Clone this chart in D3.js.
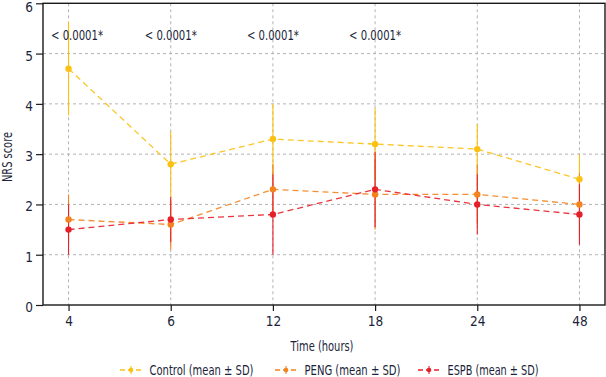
<!DOCTYPE html>
<html><head><meta charset="utf-8">
<script src="https://cdn.jsdelivr.net/npm/d3@7"></script>
<style>
body{margin:0;background:#fff;}
svg{display:block;}
text{font-family:"DejaVu Sans Condensed","Liberation Sans Narrow",sans-serif;fill:#1b1f3b;}
</style></head>
<body>
<svg id="c" width="606" height="377"></svg>
<script>
const times = ["4","6","12","18","24","48"];
const yTicks = [0,1,2,3,4,5,6];
const controlMean = [4.7,2.8,3.3,3.2,3.1,2.5];
const controlSD   = [0.93,0.65,0.7,0.72,0.5,0.5];
const pengMean = [1.7,1.6,2.3,2.2,2.2,2.0];
const pengSD   = [0.5,0.5,0.5,0.7,0.6,0.62];
const espbMean = [1.5,1.7,1.8,2.3,2.0,1.8];
const espbSD   = [0.5,0.45,0.8,0.75,0.6,0.6];
const pLabels = ["< 0.0001*","< 0.0001*","< 0.0001*","< 0.0001*","",""];
const seriesNames = ["Control (mean \u00b1 SD)","PENG (mean \u00b1 SD)","ESPB (mean \u00b1 SD)"];
const seriesColors = ["#FBC012","#F3831F","#E5202A"];

const series = [
  {name:seriesNames[0], color:seriesColors[0], mean:controlMean, sd:controlSD},
  {name:seriesNames[1], color:seriesColors[1], mean:pengMean, sd:pengSD},
  {name:seriesNames[2], color:seriesColors[2], mean:espbMean, sd:espbSD}
];

const svg = d3.select("#c");
const L=43, R=605, T=3.3, B=305;
const x = d3.scalePoint().domain(times).range([L,R]).padding(0.25);
const y = d3.scaleLinear().domain([0,6]).range([B,T]);

// grid
const g = svg.append("g");
g.selectAll("line.gy").data(yTicks.filter(d=>d>0&&d<6)).enter().append("line")
  .attr("x1",L).attr("x2",R).attr("y1",d=>y(d)).attr("y2",d=>y(d))
  .attr("stroke","#b3b3b3").attr("stroke-width",1).attr("stroke-dasharray","3,3");
g.selectAll("line.gx").data(times).enter().append("line")
  .attr("x1",d=>x(d)).attr("x2",d=>x(d)).attr("y1",T).attr("y2",B)
  .attr("stroke","#b3b3b3").attr("stroke-width",1).attr("stroke-dasharray","3,3");

// frame
svg.append("rect").attr("x",L).attr("y",T).attr("width",R-L).attr("height",B-T)
  .attr("fill","none").attr("stroke","#1a1a1a").attr("stroke-width",1.4);

// axes
const xa = svg.append("g").attr("transform",`translate(0,${B})`)
  .call(d3.axisBottom(x).tickSize(6).tickPadding(5));
const ya = svg.append("g").attr("transform",`translate(${L},0)`)
  .call(d3.axisLeft(y).tickValues(yTicks).tickFormat(d3.format("d")).tickSize(7).tickPadding(3));
[xa,ya].forEach(a=>{
  a.select(".domain").remove();
  a.selectAll(".tick line").attr("stroke","#1a1a1a").attr("stroke-width",1.2);
  a.selectAll(".tick text").attr("font-size",13.5).attr("fill","#1b1f3b")
   .attr("font-family",'"DejaVu Sans Condensed","Liberation Sans Narrow",sans-serif');
});
ya.selectAll(".tick text").attr("dy",d=>d===6?"0.6em":"0.48em");

// error bars
series.forEach(s=>{
  svg.append("g").selectAll("line").data(times).enter().append("line")
    .attr("x1",d=>x(d)).attr("x2",d=>x(d))
    .attr("y1",(d,i)=>y(s.mean[i]+s.sd[i])).attr("y2",(d,i)=>y(s.mean[i]-s.sd[i]))
    .attr("stroke",s.color).attr("stroke-width",1.1);
});
// lines and points
series.forEach(s=>{
  const line = d3.line().x((d,i)=>x(times[i])).y(d=>y(d));
  svg.append("path").datum(s.mean).attr("d",line).attr("fill","none")
    .attr("stroke",s.color).attr("stroke-width",1.3).attr("stroke-dasharray","6,4").attr("opacity",0.9);
});
series.forEach(s=>{
  svg.append("g").selectAll("circle").data(s.mean).enter().append("circle")
    .attr("cx",(d,i)=>x(times[i])).attr("cy",d=>y(d)).attr("r",3.2).attr("fill",s.color);
});

// p labels (kept clear of the y axis)
const pW = 52;
svg.append("g").selectAll("text").data(pLabels).enter().append("text")
  .attr("x",(d,i)=>Math.max(x(times[i]), L + 8 + pW/2)).attr("y",39.5).attr("text-anchor","middle")
  .attr("font-size",13.5).attr("textLength",d=>d?pW:null).attr("lengthAdjust","spacingAndGlyphs")
  .text(d=>d);

// axis titles
svg.append("text").attr("x",322).attr("y",351).attr("text-anchor","middle").attr("font-size",13.5)
  .attr("textLength",63).attr("lengthAdjust","spacingAndGlyphs").text("Time (hours)");
svg.append("text").attr("transform","translate(12,157) rotate(-90)").attr("text-anchor","middle").attr("font-size",13.5)
  .attr("textLength",50).attr("lengthAdjust","spacingAndGlyphs").text("NRS score");

// legend
const legX = [120,275,418];
const legW = [104,96,91];
series.forEach((s,i)=>{
  const lg = svg.append("g").attr("transform",`translate(${legX[i]},370)`);
  lg.append("line").attr("x1",0).attr("x2",22).attr("y1",0).attr("y2",0)
    .attr("stroke",s.color).attr("stroke-width",1.3).attr("stroke-dasharray","5,3");
  lg.append("line").attr("x1",11).attr("x2",11).attr("y1",-4).attr("y2",4)
    .attr("stroke",s.color).attr("stroke-width",1.1);
  lg.append("circle").attr("cx",11).attr("cy",0).attr("r",2.3).attr("fill",s.color);
  lg.append("text").attr("x",29.5).attr("y",5).attr("font-size",13.5)
    .attr("textLength",legW[i]).attr("lengthAdjust","spacingAndGlyphs").text(s.name);
});
</script>
</body></html>
